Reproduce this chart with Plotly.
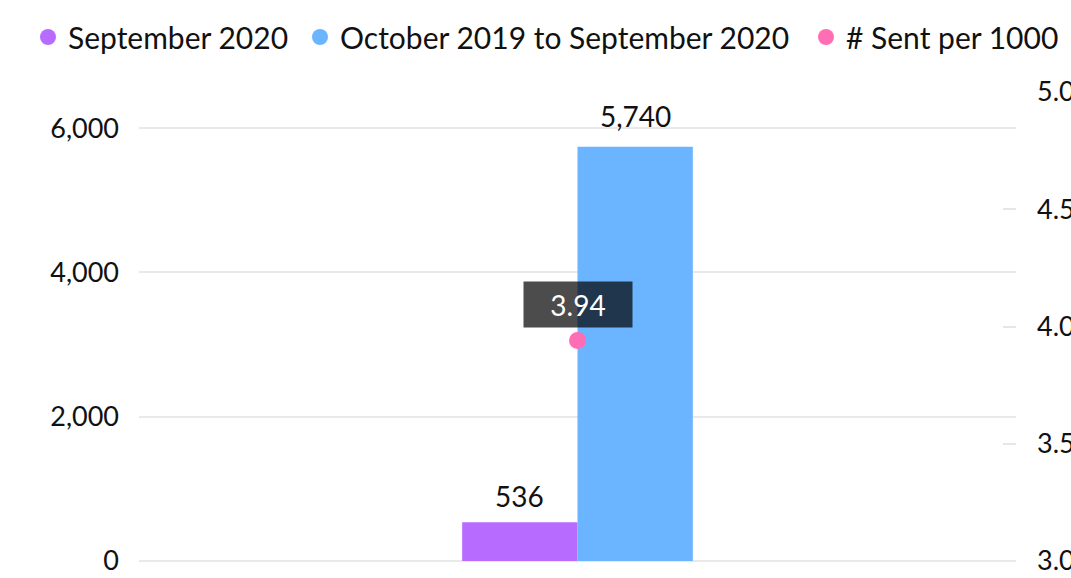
import plotly.graph_objects as go

categories = ["All"]
sept_2020 = [536]
oct19_sep20 = [5740]
sent_per_1000 = [3.94]

names = ["September 2020", "October 2019 to September 2020", "# Sent per 1000"]
colors = ["#b76cff", "#6bb4ff", "#ff6eb4"]
left_ticks = [0, 2000, 4000, 6000]
right_ticks = [3.0, 3.5, 4.0, 4.5, 5.0]

FONT = "Lato"
W, H = 1071, 578
ML, MR, MT, MB = 139, 55, 92, 17
BARGAP = 0.737
plot_w = W - ML - MR
bar_w = plot_w * (1 - BARGAP) / 2

fig = go.Figure()
fig.add_trace(go.Bar(x=categories, y=sept_2020, name=names[0], marker_color=colors[0],
                     marker_line_width=0, showlegend=False))
fig.add_trace(go.Bar(x=categories, y=oct19_sep20, name=names[1], marker_color=colors[1],
                     marker_line_width=0, showlegend=False))
fig.add_trace(go.Scatter(x=categories, y=sent_per_1000, name=names[2], yaxis="y2", mode="markers",
                         marker=dict(color=colors[2], size=17), showlegend=False))

# bar value labels
for vals, shift, ysh in ((sept_2020, -bar_w / 2, 7), (oct19_sep20, bar_w / 2, 12)):
    for c, v in zip(categories, vals):
        fig.add_annotation(x=c, y=v, text=f"{v:,}", showarrow=False, xshift=shift,
                           yanchor="bottom", yshift=ysh, font=dict(size=28, color="#111", family=FONT))

# value box for the marker
fig.add_annotation(x=categories[0], y=sent_per_1000[0], yref="y2", text=f"{sent_per_1000[0]:.2f}",
                   showarrow=False, yshift=36, bgcolor="rgba(0,0,0,0.7)", borderpad=6,
                   width=96, height=33, align="center",
                   font=dict(size=28, color="white", family=FONT))

# legend entries with circle symbols, each in its own legend for exact placement
legend_ids = ["legend", "legend2", "legend3"]
legend_text_x = [70, 342, 848]
for n, c, lid in zip(names, colors, legend_ids):
    fig.add_trace(go.Scatter(x=[None], y=[None], name=n, mode="markers", legend=lid,
                             marker=dict(color=c, size=22, symbol="circle")))

legend_common = dict(orientation="h", xref="container", yref="container", yanchor="middle",
                     xanchor="left", font=dict(size=30, family=FONT, color="#111"),
                     itemclick=False, itemdoubleclick=False, bgcolor="rgba(0,0,0,0)",
                     borderwidth=0, tracegroupgap=0)
legends = {}
for lid, tx in zip(legend_ids, legend_text_x):
    legends[lid] = dict(legend_common, x=(tx - 42) / W, y=1 - 37 / H)

fig.update_layout(
    width=W, height=H,
    margin=dict(l=ML, r=MR, t=MT, b=MB, autoexpand=False),
    paper_bgcolor="white", plot_bgcolor="white",
    font=dict(family=FONT, size=27, color="#111"),
    barmode="group", bargap=BARGAP, bargroupgap=0,
    xaxis=dict(showticklabels=False, showgrid=False, zeroline=False, showline=False),
    yaxis=dict(range=[0, 6500], tickvals=left_ticks, tickformat=",d", showgrid=True,
               gridcolor="#e9e9e9", gridwidth=2, zeroline=True, zerolinecolor="#e9e9e9",
               zerolinewidth=2, ticklabelstandoff=19, automargin=False),
    yaxis2=dict(range=[3, 5], tickvals=right_ticks, tickformat=".1f", overlaying="y", side="right",
                showgrid=False, zeroline=False, ticks="inside", ticklen=13, tickwidth=2,
                tickcolor="#e6e6e6", ticklabelstandoff=20, automargin=False),
    **legends,
)

fig.write_html("out.html", config={"displayModeBar": False},
               post_script="document.body.style.margin='0px';")
